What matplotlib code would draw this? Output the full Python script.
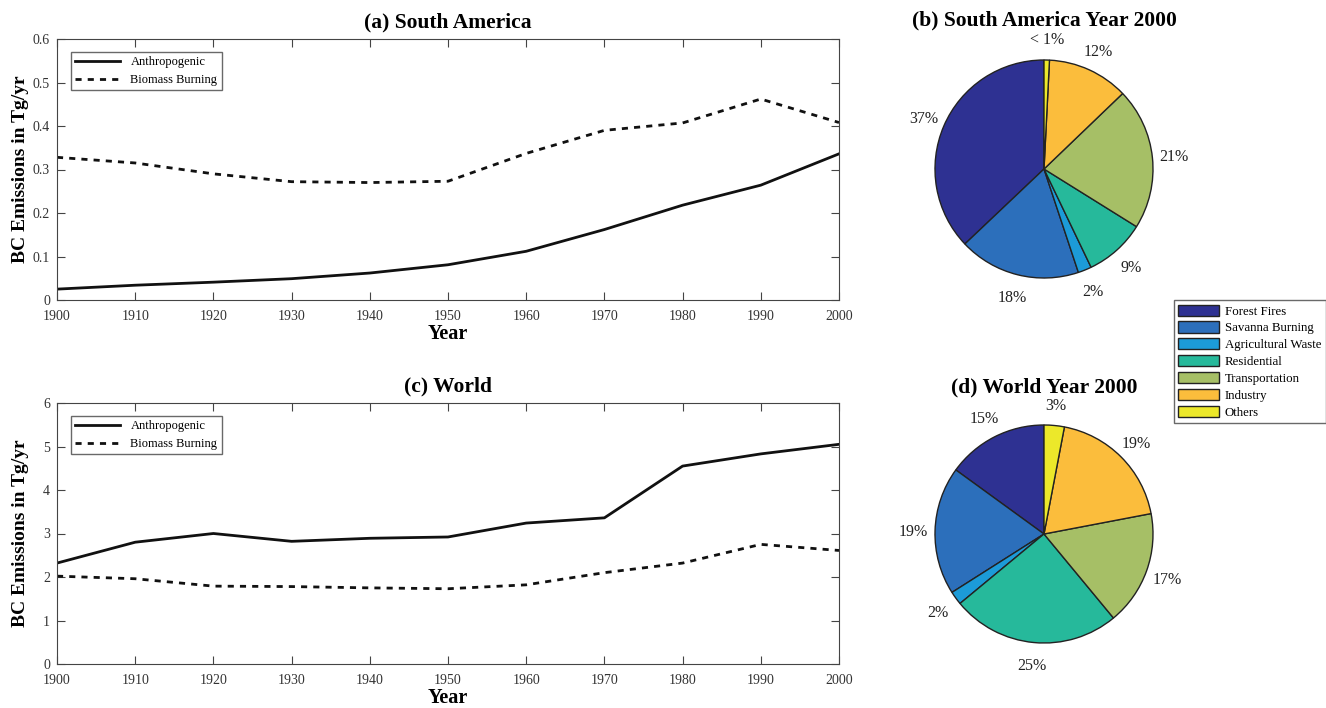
import numpy as np
import matplotlib
matplotlib.use('Agg')
import matplotlib.pyplot as plt

plt.rcParams['font.family'] = ['Liberation Serif', 'DejaVu Serif']

years = [1900, 1910, 1920, 1930, 1940, 1950, 1960, 1970, 1980, 1990, 2000]

sa_anthro = [0.025, 0.034, 0.041, 0.049, 0.062, 0.081, 0.112, 0.162, 0.218, 0.264, 0.336]
sa_biomass = [0.328, 0.315, 0.290, 0.272, 0.270, 0.273, 0.337, 0.390, 0.407, 0.462, 0.408]

world_anthro = [2.32, 2.80, 3.00, 2.82, 2.89, 2.92, 3.24, 3.36, 4.55, 4.83, 5.05]
world_biomass = [2.02, 1.96, 1.79, 1.78, 1.75, 1.73, 1.82, 2.10, 2.32, 2.75, 2.61]

sources = ['Forest Fires', 'Savanna Burning', 'Agricultural Waste', 'Residential',
           'Transportation', 'Industry', 'Others']
sa_share = [37, 18, 2, 9, 21, 12, 0.8]
sa_labels = ['37%', '18%', '2%', '9%', '21%', '12%', '< 1%']
world_share = [15, 19, 2, 25, 17, 19, 3]
world_labels = ['15%', '19%', '2%', '25%', '17%', '19%', '3%']

colors = ['#2e3192', '#2c6fbb', '#1c9bd8', '#26b99b', '#a6bf66', '#fbbd3c', '#ece82a']

W, H = 1326, 708
fig = plt.figure(figsize=(W / 100, H / 100), dpi=100)


def px_axes(x0, y0, x1, y1):
    return fig.add_axes([x0 / W, 1 - y1 / H, (x1 - x0) / W, (y1 - y0) / H])


def line_panel(ax, anthro, biomass, ymax, yticks, ytl, title):
    ax.plot(years, anthro, color='#111111', lw=2, label='Anthropogenic')
    ax.plot(years, biomass, color='#111111', lw=2, ls=(0, (2.2, 2.2)), label='Biomass Burning')
    ax.set_xlim(1900, 2000)
    ax.set_ylim(0, ymax)
    ax.set_xticks(years)
    ax.set_yticks(yticks)
    ax.set_yticklabels(ytl)
    ax.tick_params(direction='in', top=True, right=True, length=6, labelsize=10,
                   color='#444444', labelcolor='#333333')
    ax.tick_params(axis='x', pad=7)
    ax.tick_params(axis='y', pad=5)
    for s in ax.spines.values():
        s.set_color('#444444')
    ax.set_title(title, fontsize=15.5, fontweight='bold', pad=8)
    ax.set_xlabel('Year', fontsize=14.5, fontweight='bold', labelpad=1)
    ax.set_ylabel('BC Emissions in Tg/yr', fontsize=14, fontweight='bold')
    ax.yaxis.set_label_coords(-28 / 782, 0.5)
    leg = ax.legend(loc='upper left', bbox_to_anchor=(0.018, 0.95), fontsize=9,
                    fancybox=False, edgecolor='#444444', handlelength=3.6,
                    borderpad=0.35, labelspacing=0.45, borderaxespad=0)
    leg.get_frame().set_linewidth(1)


ax_a = px_axes(57, 39, 839, 300)
line_panel(ax_a, sa_anthro, sa_biomass, 0.6, [0, 0.1, 0.2, 0.3, 0.4, 0.5, 0.6],
           ['0', '0.1', '0.2', '0.3', '0.4', '0.5', '0.6'], '(a) South America')

ax_c = px_axes(57, 403, 839, 664)
line_panel(ax_c, world_anthro, world_biomass, 6, [0, 1, 2, 3, 4, 5, 6],
           ['0', '1', '2', '3', '4', '5', '6'], '(c) World')


def pie_panel(cx, cy, r, shares, labels, title, title_y):
    lim = 1.3
    half = r * lim
    ax = px_axes(cx - half, cy - half, cx + half, cy + half)
    wedges, texts = ax.pie(shares, colors=colors, startangle=90, counterclock=True,
                           labels=labels, labeldistance=1.2,
                           wedgeprops=dict(edgecolor='#222222', linewidth=1),
                           textprops=dict(fontsize=11.5, color='#222222'))
    for t in texts:
        t.set_ha('center')
        t.set_va('center_baseline')
    ax.set_xlim(-lim, lim)
    ax.set_ylim(-lim, lim)
    ax.set_aspect('equal')
    fig.text(cx / W, 1 - title_y / H, title, ha='center', va='center',
             fontsize=15.5, fontweight='bold')
    return wedges


wedges = pie_panel(1044, 169, 109, sa_share, sa_labels, '(b) South America Year 2000', 20)
pie_panel(1044, 534, 109, world_share, world_labels, '(d) World Year 2000', 387)

fig.legend(wedges, sources, loc='upper right', bbox_to_anchor=(1.0, 1 - 300 / H),
           fontsize=9.3, fancybox=False, edgecolor='#444444', handlelength=3.1,
           handleheight=0.95, borderpad=0.35, labelspacing=0.3, handletextpad=0.5,
           borderaxespad=0)

fig.savefig('out.png', dpi=100)
